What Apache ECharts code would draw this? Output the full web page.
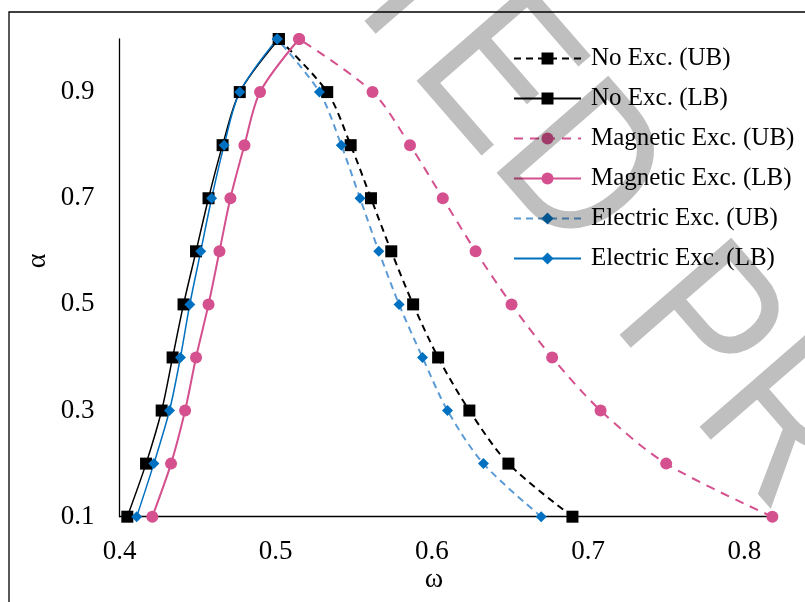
<!DOCTYPE html>
<html><head><meta charset="utf-8">
<script src="https://cdn.jsdelivr.net/npm/echarts@6/dist/echarts.min.js"></script>
<style>html,body{margin:0;padding:0;background:#fff;}#chart{width:805px;height:602px;background:#fff;}</style>
</head><body><div id="chart"></div>
<script>
// alpha levels (y values)
const alpha = [0.1, 0.2, 0.3, 0.4, 0.5, 0.6, 0.7, 0.8, 0.9, 1.0];
// omega values (x) for each series, per alpha level
const noExcUB = [0.690, 0.649, 0.624, 0.604, 0.588, 0.574, 0.561, 0.548, 0.533, 0.502];
const noExcLB = [0.405, 0.417, 0.427, 0.434, 0.441, 0.449, 0.457, 0.466, 0.477, 0.502];
const magUB   = [0.818, 0.750, 0.708, 0.677, 0.651, 0.628, 0.607, 0.586, 0.562, 0.515];
const magLB   = [0.421, 0.433, 0.442, 0.449, 0.457, 0.464, 0.471, 0.480, 0.490, 0.515];
const elecUB  = [0.670, 0.633, 0.610, 0.594, 0.579, 0.566, 0.554, 0.542, 0.528, 0.501];
const elecLB  = [0.411, 0.422, 0.432, 0.439, 0.445, 0.452, 0.459, 0.467, 0.477, 0.501];
const seriesNames = ['No Exc. (UB)', 'No Exc. (LB)', 'Magnetic Exc. (UB)', 'Magnetic Exc. (LB)', 'Electric Exc. (UB)', 'Electric Exc. (LB)'];
const xTitle = 'ω';
const yTitle = 'α';
const watermarkA = 'UNCORRECTED';
const watermarkB = 'PROOF';

const SERIF = '"Liberation Serif","Times New Roman",serif';
const PINK = '#D4508E';
const BLUE = '#0070C0';
const LIGHTBLUE = '#5B9BD5';
const pairs = xs => xs.map((x, i) => [x, alpha[i]]);
const fmt = v => v.toFixed(1);

function mk(name, xs, symbol, size, mColor, lColor, width, dash) {
  return {
    name, type: 'line', data: pairs(xs), symbol, symbolSize: size, smooth: 0.3,
    itemStyle: { color: mColor }, lineStyle: { color: lColor, width, type: dash || 'solid' },
    emphasis: { disabled: true }, silent: true
  };
}

const chart = echarts.init(document.getElementById('chart'), null, { renderer: 'canvas' });
// watermark glyphs: grey fill, thinned by a white outline (white is neutral under multiply)
const wmStyle = (text, align) => ({
  text, fontFamily: '"Liberation Sans",Arial,sans-serif', fontSize: 215,
  fill: '#BFBFBF', stroke: '#FFFFFF', lineWidth: 4, align, verticalAlign: 'middle'
});
chart.setOption({
  animation: false,
  grid: { left: 119.5, right: 29.5, top: 39, bottom: 85.3, containLabel: false },
  xAxis: {
    type: 'value', min: 0.4, max: 0.82, interval: 0.1,
    axisLine: { show: true, onZero: false, lineStyle: { color: '#000', width: 1.3 } },
    axisTick: { show: false }, splitLine: { show: false },
    axisLabel: { color: '#000', fontFamily: SERIF, fontSize: 27, margin: 22, showMaxLabel: false, formatter: fmt }
  },
  yAxis: {
    type: 'value', min: 0.1, max: 1.0, interval: 0.2,
    axisLine: { show: true, onZero: false, lineStyle: { color: '#000', width: 1.3 } },
    axisTick: { show: false }, splitLine: { show: false },
    axisLabel: { color: '#000', fontFamily: SERIF, fontSize: 27, margin: 25, showMaxLabel: false, formatter: fmt }
  },
  legend: {
    data: seriesNames, orient: 'vertical', left: 508, top: 41,
    itemWidth: 67, itemHeight: 15, itemGap: 15,
    textStyle: { color: '#000', fontFamily: SERIF, fontSize: 25, padding: [0, 0, 0, 5] },
    selectedMode: false
  },
  graphic: [
    { type: 'text', x: 618, y: 222.3, rotation: -0.8552, scaleX: 0.85, zlevel: 1, z: 10, silent: true, style: wmStyle(watermarkA, 'right') },
    { type: 'text', x: 654.4, y: 284.6, rotation: -0.8552, scaleX: 0.85, zlevel: 1, z: 10, silent: true, style: wmStyle(watermarkB, 'left') },
    { type: 'rect', shape: { x: 9, y: 12, width: 1000, height: 1000 }, style: { fill: 'none', stroke: '#000', lineWidth: 1.3 }, z: 100, silent: true },
    { type: 'text', x: 38, y: 261, rotation: Math.PI / 2, silent: true, style: { text: yTitle, fontFamily: SERIF, fontSize: 28, fill: '#000', align: 'center', verticalAlign: 'middle' } },
    { type: 'text', x: 434, y: 580, silent: true, style: { text: xTitle, fontFamily: SERIF, fontSize: 28, fill: '#000', align: 'center', verticalAlign: 'middle' } }
  ],
  series: [
    mk(seriesNames[0], noExcUB, 'rect', 12, '#000', '#000', 2, [7, 5]),
    mk(seriesNames[1], noExcLB, 'rect', 12, '#000', '#000', 1.5),
    mk(seriesNames[2], magUB, 'circle', 12, PINK, PINK, 2, [9, 7]),
    mk(seriesNames[3], magLB, 'circle', 12, PINK, PINK, 2),
    mk(seriesNames[4], elecUB, 'diamond', 11, BLUE, LIGHTBLUE, 2, [7, 5]),
    mk(seriesNames[5], elecLB, 'diamond', 11, BLUE, BLUE, 1.5)
  ]
});
// watermark layer is blended (multiply) over the chart, like a semi-transparent stamp
document.querySelectorAll('#chart canvas').forEach(c => {
  if (c.getAttribute('data-zr-dom-id') === 'zr_1') c.style.mixBlendMode = 'multiply';
});
</script>
</body></html>
